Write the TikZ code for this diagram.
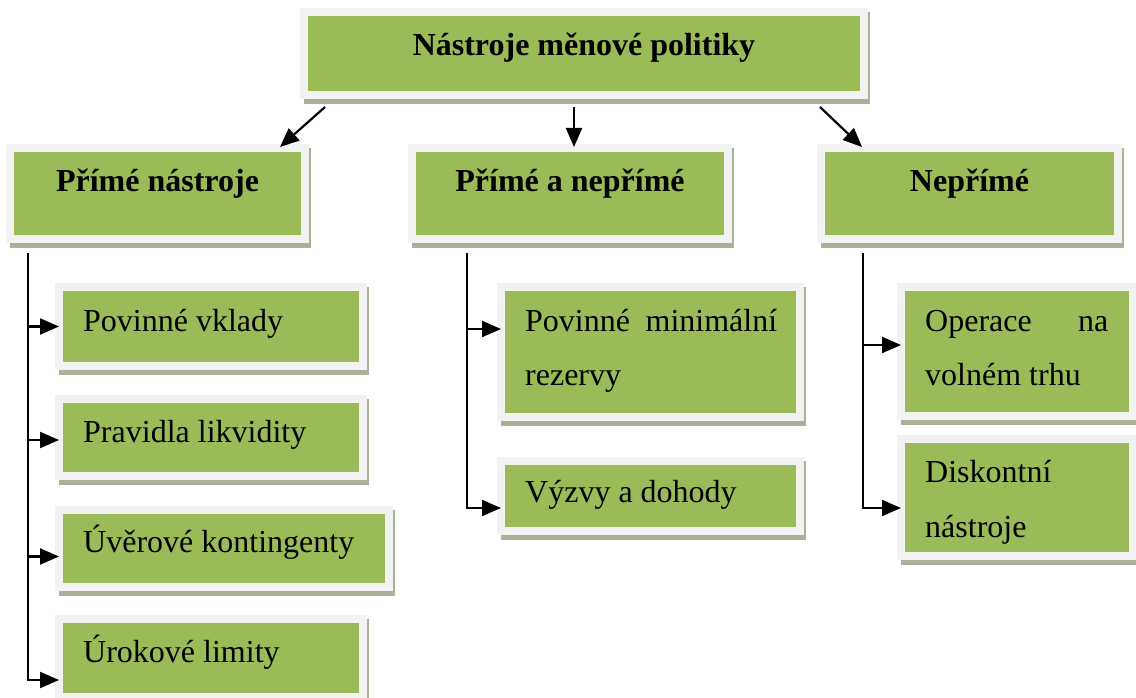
\documentclass[tikz,border=0pt]{standalone}
\usepackage{fontspec}
\setmainfont{Liberation Serif}
\usetikzlibrary{arrows.meta,calc,fit}
\definecolor{panelgreen}{HTML}{9BBB59}
\definecolor{panelframe}{HTML}{F2F2F2}
\definecolor{panelshade}{HTML}{A9B196}
\tikzset{
  panel/.style={rectangle, fill=panelgreen, draw=panelframe, line width=8pt,
    inner sep=0pt, outer sep=0pt},
  head/.style={font=\fontsize{32}{38}\selectfont\bfseries, anchor=base, inner sep=0pt},
  entry/.style={font=\fontsize{32}{38}\selectfont, anchor=base west, inner sep=0pt},
  link/.style={line width=2.2pt, -{Triangle[length=19pt,width=16pt]}},
}
% panel with its shadow: name, left, top, right, bottom (outer edges)
\newcommand\panelbox[5]{%
  \fill[panelshade] (#2+4,#3+4) rectangle (#4+2,#5+5);
  \node[panel, fit={(#2+4,#3+4) (#4-4,#5-4)}] (#1) {};}
\begin{document}
\begin{tikzpicture}[x=1pt,y=-1pt]
\useasboundingbox (0,0) rectangle (1136,698);

% root and the three groups
\panelbox{top}{300}{8}{868}{99}
\panelbox{l2a}{6}{144}{309}{243}
\panelbox{l2b}{408}{144}{732}{243}
\panelbox{l2c}{817}{144}{1122}{243}
\node[head] (ttop) at (584,56) {Nástroje měnové politiky};
\node[head] (ta) at (157.5,192) {Přímé nástroje};
\node[head] (tb) at (570,192) {Přímé a nepřímé};
\node[head] (tc) at (969.5,192) {Nepřímé};

% direct instruments
\panelbox{d1}{55}{283}{367}{370}
\panelbox{d2}{55}{395}{367}{480}
\panelbox{d3}{55}{506}{393}{591}
\panelbox{d4}{55}{615}{367}{701}
\node[entry] (td1) at (83,331) {Povinné vklady};
\node[entry] (td2) at (83,442) {Pravidla likvidity};
\node[entry] (td3) at (83,552) {Úvěrové kontingenty};
\node[entry] (td4) at (83,662) {Úrokové limity};

% direct and indirect
\panelbox{m1}{497}{283}{804}{421}
\panelbox{m2}{497}{457}{804}{535}
\node[entry] (tm1) at (525,331) {\vtop{\baselineskip=54pt
  \hbox to 252pt{Povinné\hfill minimální}\hbox{rezervy}}};
\node[entry] (tm2) at (525,502) {Výzvy a dohody};

% indirect
\panelbox{r1}{897}{283}{1137}{420}
\panelbox{r2}{897}{435}{1137}{560}
\node[entry] (tr1) at (925,331) {\vtop{\baselineskip=54pt
  \hbox to 183pt{Operace\hfill na}\hbox{volném trhu}}};
\node[entry] (tr2) at (925,482) {\vtop{\baselineskip=55pt
  \hbox{Diskontní}\hbox{nástroje}}};

% arrows from the root
\draw[link] ($(top.south west)+(21,12)$) -- ($(l2a.north east)+(-25,-1)$);
\draw[link] ($(top.south)+(-10,12)$) -- ($(l2b.north)+(4,-1)$);
\draw[link] ($(top.south east)+(-44,12)$) -- ($(l2c.north west)+(41,-1)$);

% tree under the first group
\coordinate (ka) at ($(l2a.south west)+(18,14)$);
\coordinate (d1in) at (d1.west);
\coordinate (d2in) at ([yshift=-2.5pt]d2.west);
\coordinate (d3in) at ([yshift=-8pt]d3.west);
\coordinate (d4in) at ([yshift=-22pt]d4.west);
\draw[link] (ka) |- (d4in);
\draw[link] (ka |- d1in) -- (d1in);
\draw[link] (ka |- d2in) -- (d2in);
\draw[link] (ka |- d3in) -- (d3in);

% tree under the second group
\coordinate (kb) at ($(l2b.south west)+(55,14)$);
\coordinate (m1in) at ([yshift=23pt]m1.west);
\coordinate (m2in) at ([yshift=-12pt]m2.west);
\draw[link] (kb) |- (m2in);
\draw[link] (kb |- m1in) -- (m1in);

% tree under the third group
\coordinate (kc) at ($(l2c.south west)+(42,14)$);
\coordinate (r1in) at ([yshift=6.5pt]r1.west);
\coordinate (r2in) at ([yshift=-10.5pt]r2.west);
\draw[link] (kc) |- (r2in);
\draw[link] (kc |- r1in) -- (r1in);
\end{tikzpicture}
\end{document}
